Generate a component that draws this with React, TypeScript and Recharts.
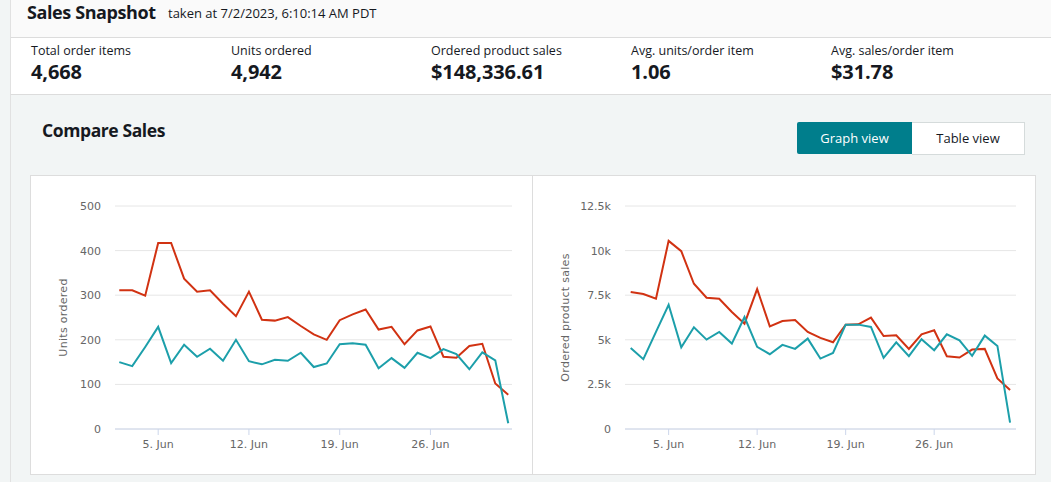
import React from "react";
import {
  CartesianGrid,
  Line,
  LineChart,
  XAxis,
  YAxis,
} from "recharts";

const dates = [
  "2023-06-02", "2023-06-03", "2023-06-04", "2023-06-05", "2023-06-06",
  "2023-06-07", "2023-06-08", "2023-06-09", "2023-06-10", "2023-06-11",
  "2023-06-12", "2023-06-13", "2023-06-14", "2023-06-15", "2023-06-16",
  "2023-06-17", "2023-06-18", "2023-06-19", "2023-06-20", "2023-06-21",
  "2023-06-22", "2023-06-23", "2023-06-24", "2023-06-25", "2023-06-26",
  "2023-06-27", "2023-06-28", "2023-06-29", "2023-06-30", "2023-07-01",
  "2023-07-02",
];

const unitsCurrent = [
  311, 311, 299, 417, 417, 337, 308, 311, 281, 253, 308, 245, 243, 251, 231,
  212, 200, 244, 257, 268, 223, 229, 190, 221, 230, 162, 160, 186, 191, 102, 77,
];
const unitsCompare = [
  150, 141, 184, 229, 148, 189, 162, 180, 153, 200, 152, 145, 155, 153, 171,
  139, 147, 190, 192, 189, 136, 159, 137, 171, 159, 179, 168, 134, 172, 154, 13,
];

const salesCurrent = [
  7675, 7563, 7302, 10544, 9966, 8141, 7358, 7302, 6557, 5905, 7843, 5756,
  6054, 6110, 5440, 5104, 4862, 5850, 5868, 6241, 5216, 5253, 4490, 5309, 5533,
  4080, 4005, 4452, 4490, 2832, 2180,
];
const salesCompare = [
  4545, 3912, 5440, 6967, 4583, 5700, 5011, 5440, 4788, 6278, 4601, 4192, 4713,
  4490, 5067, 3949, 4266, 5850, 5850, 5719, 3987, 4862, 4080, 5030, 4415, 5309,
  4974, 4098, 5235, 4657, 354,
];

const tickDates = ["2023-06-05", "2023-06-12", "2023-06-19", "2023-06-26"];
const tickLabels = ["5. Jun", "12. Jun", "19. Jun", "26. Jun"];

const unitTicks = [0, 100, 200, 300, 400, 500];
const salesTicks = [0, 2500, 5000, 7500, 10000, 12500];
const salesTickLabels = ["0", "2.5k", "5k", "7.5k", "10k", "12.5k"];

const metricLabels = [
  "Total order items",
  "Units ordered",
  "Ordered product sales",
  "Avg. units/order item",
  "Avg. sales/order item",
];
const metricValues = ["4,668", "4,942", "$148,336.61", "1.06", "$31.78"];

const DAY = 86400000;
const RED = "#d13212";
const TEAL = "#1c9faa";
const AXIS_FONT = "'DejaVu Sans', Verdana, sans-serif";
const UI_FONT = "'Open Sans', 'Noto Sans', sans-serif";

const toTime = (d: string) => Date.parse(d + "T00:00:00Z");
const tickTimes = tickDates.map(toTime);

const unitsData = dates.map((d, i) => ({
  t: toTime(d),
  current: unitsCurrent[i],
  compare: unitsCompare[i],
}));
const salesData = dates.map((d, i) => ({
  t: toTime(d),
  current: salesCurrent[i],
  compare: salesCompare[i],
}));

const xLabel = (v: number) => {
  const i = tickTimes.indexOf(v);
  return i >= 0 ? tickLabels[i] : "";
};
const salesLabel = (v: number) => {
  const i = salesTicks.indexOf(v);
  return i >= 0 ? salesTickLabels[i] : String(v);
};

type ChartProps = {
  data: { t: number; current: number; compare: number }[];
  yTicks: number[];
  yFormat?: (v: number) => string;
  yTitle: string;
  marginLeft: number;
  marginRight: number;
  titleOffset: number;
  padLeft: number;
  padRight: number;
};

const SnapshotChart = ({
  data,
  yTicks,
  yFormat,
  yTitle,
  marginLeft,
  marginRight,
  titleOffset,
  padLeft,
  padRight,
}: ChartProps) => {
  const first = data[0].t;
  const last = data[data.length - 1].t;
  return (
    <LineChart
      width={502}
      height={298}
      data={data}
      margin={{ top: 30, right: marginRight, bottom: 15, left: marginLeft }}
    >
      <CartesianGrid vertical={false} stroke="#e6e6e6" />
      <XAxis
        dataKey="t"
        type="number"
        domain={[first - padLeft * DAY, last + padRight * DAY]}
        ticks={tickTimes}
        tickFormatter={xLabel}
        height={30}
        tickSize={6}
        tickMargin={5}
        stroke="#ccd6eb"
        tick={{ fill: "#666666", fontSize: 11, fontFamily: AXIS_FONT }}
      />
      <YAxis
        type="number"
        domain={[yTicks[0], yTicks[yTicks.length - 1]]}
        ticks={yTicks}
        tickFormatter={yFormat}
        width={60}
        axisLine={false}
        tickLine={false}
        tickSize={6}
        tickMargin={8}
        tick={{ fill: "#666666", fontSize: 11, fontFamily: AXIS_FONT }}
        label={{
          value: yTitle,
          angle: -90,
          position: "insideLeft",
          offset: titleOffset,
          style: {
            textAnchor: "middle",
            fill: "#666666",
            fontSize: 11,
            letterSpacing: 0.3,
            fontFamily: AXIS_FONT,
          },
        }}
      />
      <Line
        type="linear"
        dataKey="current"
        stroke={RED}
        strokeWidth={2}
        dot={false}
        isAnimationActive={false}
      />
      <Line
        type="linear"
        dataKey="compare"
        stroke={TEAL}
        strokeWidth={2}
        dot={false}
        isAnimationActive={false}
      />
    </LineChart>
  );
};

export default function App() {
  return (
    <div
      style={{
        position: "absolute",
        left: 0,
        top: 0,
        width: 1051,
        height: 482,
        overflow: "hidden",
        background: "#f2f5f5",
        fontFamily: UI_FONT,
        color: "#16191f",
      }}
    >
      {/* snapshot header */}
      <div
        style={{
          position: "absolute",
          left: 10,
          top: 0,
          width: 1041,
          height: 37,
          background: "#fafafa",
          borderLeft: "1px solid #e1e1e1",
          borderBottom: "1px solid #dcdcdc",
        }}
      />
      <div
        style={{
          position: "absolute",
          left: 27,
          top: 0,
          fontSize: 18,
          fontWeight: 700,
          letterSpacing: -0.4,
          color: "#16191f",
        }}
      >
        Sales Snapshot
      </div>
      <div
        style={{
          position: "absolute",
          left: 168,
          top: 4,
          fontSize: 13,
          color: "#16191f",
        }}
      >
        taken at 7/2/2023, 6:10:14 AM PDT
      </div>

      {/* metrics */}
      <div
        style={{
          position: "absolute",
          left: 10,
          top: 38,
          width: 1041,
          height: 56,
          background: "#ffffff",
          borderLeft: "1px solid #e1e1e1",
          borderBottom: "1px solid #dcdcdc",
        }}
      />
      {metricLabels.map((label, i) => (
        <div
          key={label}
          style={{ position: "absolute", left: 31 + i * 200, top: 42 }}
        >
          <div style={{ fontSize: 12.5, lineHeight: "17px" }}>{label}</div>
          <div
            style={{
              fontSize: 20,
              fontWeight: 700,
              lineHeight: "27px",
              marginTop: -1,
              letterSpacing: -0.1,
            }}
          >
            {metricValues[i]}
          </div>
        </div>
      ))}

      {/* compare section */}
      <div
        style={{
          position: "absolute",
          left: 10,
          top: 95,
          width: 1041,
          height: 387,
          borderLeft: "1px solid #e1e1e1",
        }}
      />
      <div
        style={{
          position: "absolute",
          left: 42,
          top: 118,
          fontSize: 17.5,
          fontWeight: 700,
          letterSpacing: -0.4,
        }}
      >
        Compare Sales
      </div>
      <div
        style={{
          position: "absolute",
          left: 797,
          top: 122,
          width: 115,
          height: 32,
          background: "#007e8c",
          color: "#ffffff",
          fontSize: 13,
          lineHeight: "32px",
          textAlign: "center",
          borderRadius: "2px 0 0 2px",
        }}
      >
        Graph view
      </div>
      <div
        style={{
          position: "absolute",
          left: 912,
          top: 122,
          width: 112,
          height: 31,
          background: "#ffffff",
          border: "1px solid #d5dbdb",
          borderLeft: "none",
          fontSize: 13,
          lineHeight: "31px",
          textAlign: "center",
        }}
      >
        Table view
      </div>

      {/* chart panel */}
      <div
        style={{
          position: "absolute",
          left: 30,
          top: 175,
          width: 1004,
          height: 298,
          background: "#ffffff",
          border: "1px solid #dddddd",
        }}
      />
      <div
        style={{
          position: "absolute",
          left: 532,
          top: 176,
          width: 1,
          height: 298,
          background: "#dddddd",
        }}
      />
      <div style={{ position: "absolute", left: 30, top: 176 }}>
        <SnapshotChart
          data={unitsData}
          yTicks={unitTicks}
          yTitle="Units ordered"
          marginLeft={25}
          marginRight={20}
          titleOffset={8}
          padLeft={0.33}
          padRight={0.29}
        />
      </div>
      <div style={{ position: "absolute", left: 532, top: 176 }}>
        <SnapshotChart
          data={salesData}
          yTicks={salesTicks}
          yFormat={salesLabel}
          yTitle="Ordered product sales"
          marginLeft={33}
          marginRight={18}
          titleOffset={0}
          padLeft={0.45}
          padRight={0.47}
        />
      </div>
    </div>
  );
}
